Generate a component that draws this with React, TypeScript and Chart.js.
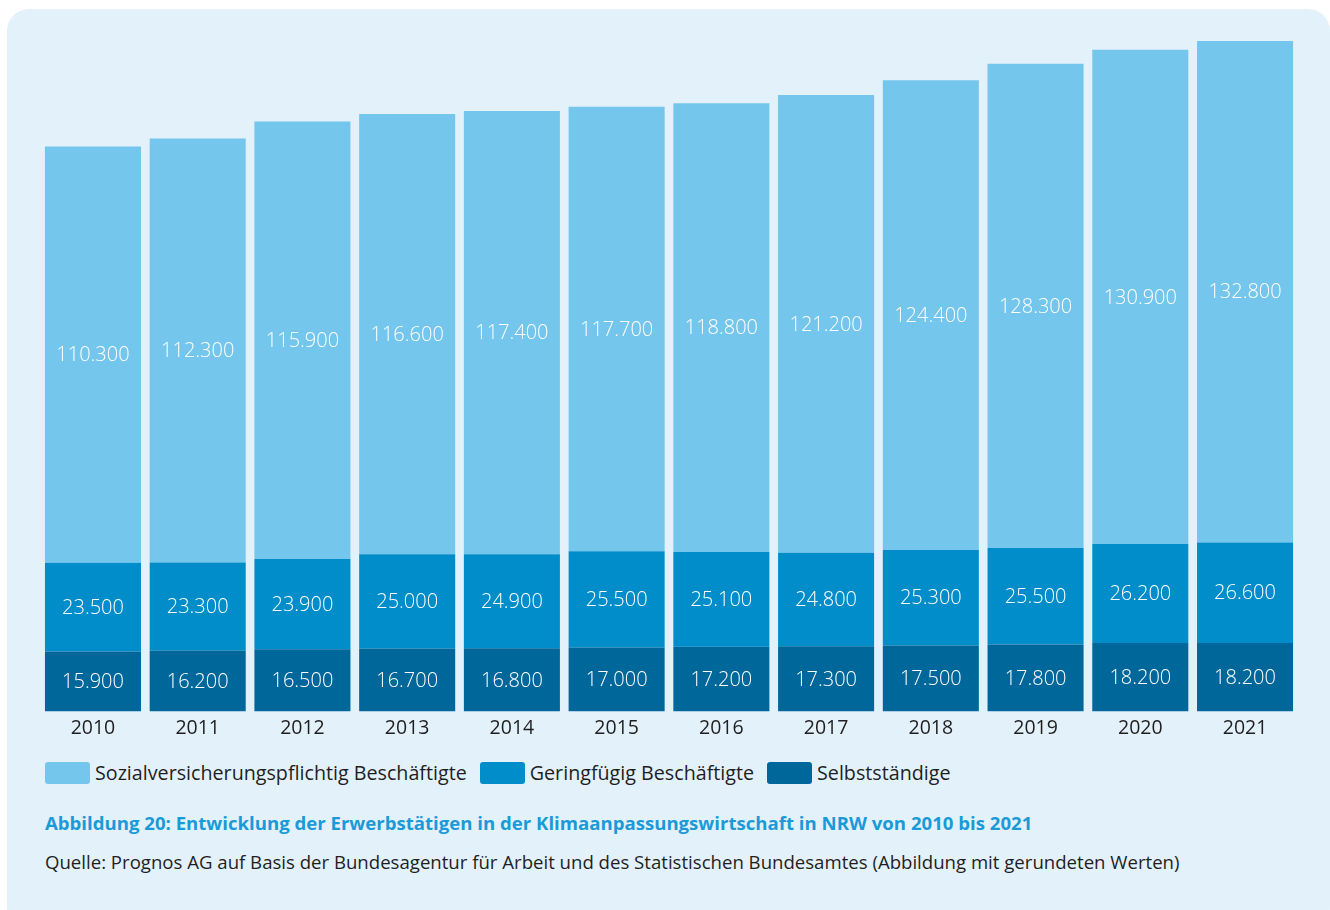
import React, { useEffect, useRef } from "react";
import { Chart, registerables } from "chart.js";

Chart.register(...registerables);

const years = ["2010", "2011", "2012", "2013", "2014", "2015", "2016", "2017", "2018", "2019", "2020", "2021"];
const selbststaendige = [15900, 16200, 16500, 16700, 16800, 17000, 17200, 17300, 17500, 17800, 18200, 18200];
const geringfuegig = [23500, 23300, 23900, 25000, 24900, 25500, 25100, 24800, 25300, 25500, 26200, 26600];
const sozialversichert = [110300, 112300, 115900, 116600, 117400, 117700, 118800, 121200, 124400, 128300, 130900, 132800];

const labelSozial = "Sozialversicherungspflichtig Beschäftigte";
const labelGering = "Geringfügig Beschäftigte";
const labelSelbst = "Selbstständige";

const colSozial = "#75c6ed";
const colGering = "#008dca";
const colSelbst = "#00679b";

const FONT = "'Open Sans', sans-serif";

const fmt = (v: number) => v.toLocaleString("de-DE");

const valueLabels = {
  id: "valueLabels",
  afterDatasetsDraw(chart: any) {
    const ctx = chart.ctx;
    ctx.save();
    ctx.fillStyle = "#ffffff";
    ctx.font = "300 20px 'Open Sans'";
    ctx.textAlign = "center";
    ctx.textBaseline = "middle";
    chart.data.datasets.forEach((ds: any, di: number) => {
      const meta = chart.getDatasetMeta(di);
      meta.data.forEach((bar: any, i: number) => {
        const p = bar.getProps(["x", "y", "base"], true);
        const cy = (p.y + p.base) / 2;
        ctx.fillText(fmt(ds.data[i]), p.x, cy + 1);
      });
    });
    ctx.restore();
  },
};

export default function App() {
  const ref = useRef<HTMLCanvasElement>(null);
  useEffect(() => {
    document.body.style.margin = "0";
    const chart = new Chart(ref.current!, {
      type: "bar",
      data: {
        labels: years,
        datasets: [
          { label: labelSelbst, data: selbststaendige, backgroundColor: colSelbst },
          { label: labelGering, data: geringfuegig, backgroundColor: colGering },
          { label: labelSozial, data: sozialversichert, backgroundColor: colSozial },
        ],
      },
      options: {
        animation: false,
        responsive: false,
        maintainAspectRatio: false,
        layout: { padding: { left: 40.6, right: 32.6, top: 32, bottom: 0 } },
        datasets: { bar: { barPercentage: 0.917, categoryPercentage: 1 } } as any,
        plugins: { legend: { display: false }, tooltip: { enabled: false } },
        scales: {
          x: {
            stacked: true,
            grid: { display: false, drawTicks: false },
            border: { display: false },
            ticks: { color: "#1f1f1f", font: { family: "'Open Sans'", size: 19.5 }, padding: 5 },
          },
          y: {
            stacked: true,
            display: false,
            min: 0,
            max: 180000,
          },
        },
      },
      plugins: [valueLabels],
    });
    return () => chart.destroy();
  }, []);

  const legendItem = (color: string, text: string, marginRight: number) => (
    <div style={{ display: "flex", alignItems: "center", marginRight }}>
      <div style={{ width: 45, height: 22, background: color, borderRadius: 3, marginRight: 5 }} />
      <span>{text}</span>
    </div>
  );

  return (
    <div style={{ position: "relative", width: 1330, height: 910, overflow: "hidden", fontFamily: FONT }}>
      <div
        style={{
          position: "absolute",
          left: 7,
          top: 9,
          width: 1323,
          height: 920,
          background: "#e3f1fb",
          borderRadius: 22,
        }}
      />
      <canvas ref={ref} width={1330} height={745} style={{ position: "absolute", left: 0, top: 0, width: 1330, height: 745 }} />
      <div
        style={{
          position: "absolute",
          left: 45,
          top: 761,
          display: "flex",
          fontSize: 19.7,
          color: "#1f1f1f",
          lineHeight: "24px",
        }}
      >
        {legendItem(colSozial, labelSozial, 13)}
        {legendItem(colGering, labelGering, 13)}
        {legendItem(colSelbst, labelSelbst, 0)}
      </div>
      <div
        style={{
          position: "absolute",
          left: 45,
          top: 811,
          fontSize: 18.6,
          fontWeight: 700,
          color: "#1b9ad8",
          whiteSpace: "nowrap",
          lineHeight: "24px",
        }}
      >
        Abbildung 20: Entwicklung der Erwerbstätigen in der Klimaanpassungswirtschaft in NRW von 2010 bis 2021
      </div>
      <div
        style={{
          position: "absolute",
          left: 45,
          top: 850,
          fontSize: 18.6,
          color: "#1f1f1f",
          whiteSpace: "nowrap",
          lineHeight: "24px",
        }}
      >
        Quelle: Prognos AG auf Basis der Bundesagentur für Arbeit und des Statistischen Bundesamtes (Abbildung mit gerundeten Werten)
      </div>
    </div>
  );
}
